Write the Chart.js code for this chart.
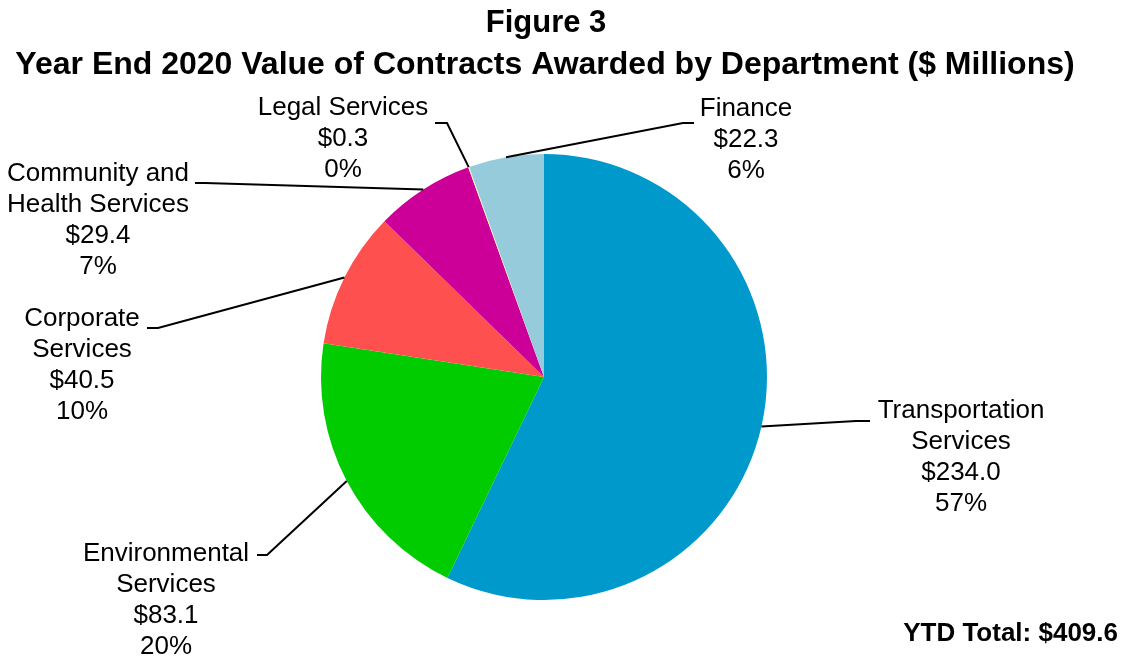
<!DOCTYPE html>
<html>
<head>
<meta charset="utf-8">
<title>Figure 3</title>
<script src="https://cdn.jsdelivr.net/npm/chart.js@4.4.1/dist/chart.umd.min.js"></script>
<style>
  body { margin: 0; background: #ffffff; }
  canvas { display: block; }
</style>
</head>
<body>
<canvas id="pieChart" width="1125" height="659"></canvas>
<script>
// DATA -------------------------------------------------
const departments = [
  ["Transportation", "Services"],
  ["Environmental", "Services"],
  ["Corporate", "Services"],
  ["Community and", "Health Services"],
  ["Legal Services"],
  ["Finance"],
];
const contractValues = [234.0, 83.1, 40.5, 29.4, 0.3, 22.3];
const percentLabels = [57, 20, 10, 7, 0, 6];

const titleLines = [
  "Figure 3",
  "Year End 2020 Value of Contracts Awarded by Department ($ Millions)",
];

// LAYOUT (label block centre and leader line elbow / end) --------
const labelLayout = [
  { x: 961, y: 411, elbow: [856, 421], end: [870, 421] },
  { x: 166, y: 554, elbow: [267, 555], end: [257, 555] },
  { x: 82, y: 319, elbow: [158, 328], end: [147, 328] },
  { x: 98, y: 174, elbow: [205, 183], end: [195, 183] },
  { x: 343, y: 108, elbow: [447, 123], end: [435, 123] },
  { x: 746, y: 109, elbow: [683, 123], end: [694, 123] },
];

const sliceColors = ["#0099CC", "#00CC00", "#FF5050", "#CC0099", "#FFFF99", "#96CBDC"];

const FONT = "'Liberation Sans', Arial, sans-serif";
const LINE_HEIGHT = 30.8;

/**
 * Draws the title, the YTD total and the leader-line labels of every slice.
 */
const labelPlugin = {
  id: "sliceLabels",
  afterDraw(chart) {
    const ctx = chart.ctx;
    const meta = chart.getDatasetMeta(0);
    ctx.save();

    // title
    ctx.fillStyle = "#000000";
    ctx.textAlign = "center";
    ctx.textBaseline = "middle";
    ctx.font = "bold 31px " + FONT;
    ctx.fillText(titleLines[0], 546, 23);
    ctx.font = "bold 32px " + FONT;
    ctx.fillText(titleLines[1], 545, 65);

    // total
    const total = contractValues.reduce((a, b) => a + b, 0);
    ctx.textAlign = "right";
    ctx.font = "bold 26px " + FONT;
    ctx.fillText("YTD Total: $" + total.toFixed(1), 1118, 634);

    // slice labels
    ctx.font = "26px " + FONT;
    ctx.textAlign = "center";
    meta.data.forEach((arc, i) => {
      const layout = labelLayout[i];
      const mid = (arc.startAngle + arc.endAngle) / 2;
      const px = arc.x + Math.cos(mid) * arc.outerRadius;
      const py = arc.y + Math.sin(mid) * arc.outerRadius;

      ctx.strokeStyle = "#000000";
      ctx.lineWidth = 2;
      ctx.beginPath();
      ctx.moveTo(px, py);
      ctx.lineTo(layout.elbow[0], layout.elbow[1]);
      ctx.lineTo(layout.end[0], layout.end[1]);
      ctx.stroke();

      const lines = departments[i].concat([
        "$" + contractValues[i].toFixed(1),
        percentLabels[i] + "%",
      ]);
      lines.forEach((line, k) => {
        ctx.fillText(line, layout.x, layout.y + k * LINE_HEIGHT);
      });
    });
    ctx.restore();
  },
};

const context = document.getElementById("pieChart").getContext("2d");

const pieChart = new Chart(context, {
  type: "pie",
  data: {
    labels: departments.map((d) => d.join(" ")),
    datasets: [
      {
        data: contractValues,
        backgroundColor: sliceColors,
        borderWidth: 0,
        hoverOffset: 0,
      },
    ],
  },
  options: {
    responsive: false,
    animation: false,
    radius: 223,
    layout: {
      padding: { left: 321, right: 358, top: 154, bottom: 59 },
    },
    plugins: {
      legend: { display: false },
      tooltip: { enabled: false },
      title: { display: false },
    },
  },
  plugins: [labelPlugin],
});
</script>
</body>
</html>
